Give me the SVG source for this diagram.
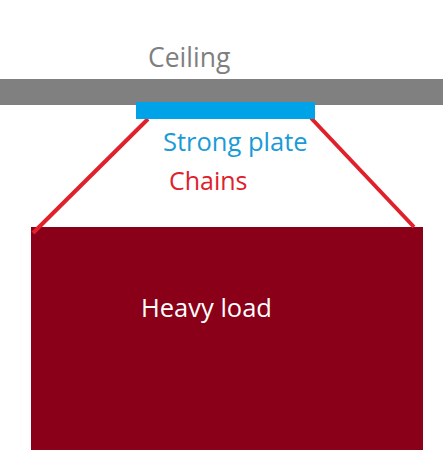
<svg xmlns="http://www.w3.org/2000/svg" width="443" height="460" viewBox="0 0 443 460">
<style>
text{font-family:"Open Sans","Noto Sans","Liberation Sans",sans-serif;font-size:25.5px}
.chain{stroke:#e0202a;stroke-width:4;fill:none}
</style>
<rect width="443" height="460" fill="#ffffff"/>
<g id="ceiling">
<rect x="0" y="79" width="443" height="26" fill="#808080"/>
<text x="148" y="67" fill="#7f7f7f" style="font-size:26.5px">Ceiling</text>
</g>
<g id="load">
<rect x="31" y="227" width="392" height="223" fill="#8a0018"/>
<text x="141" y="317" fill="#ffffff">Heavy load</text>
</g>
<g id="connectors">
<line class="chain" x1="148" y1="119" x2="33" y2="233"/>
<line class="chain" x1="311" y1="118" x2="414" y2="227"/>
<text x="169" y="190" fill="#e0202a" style="font-size:25px">Chains</text>
</g>
<g id="plate">
<rect x="136" y="102" width="179" height="17" fill="#00a2e8"/>
<text x="163" y="151" fill="#1a9bd7">Strong plate</text>
</g>
</svg>
